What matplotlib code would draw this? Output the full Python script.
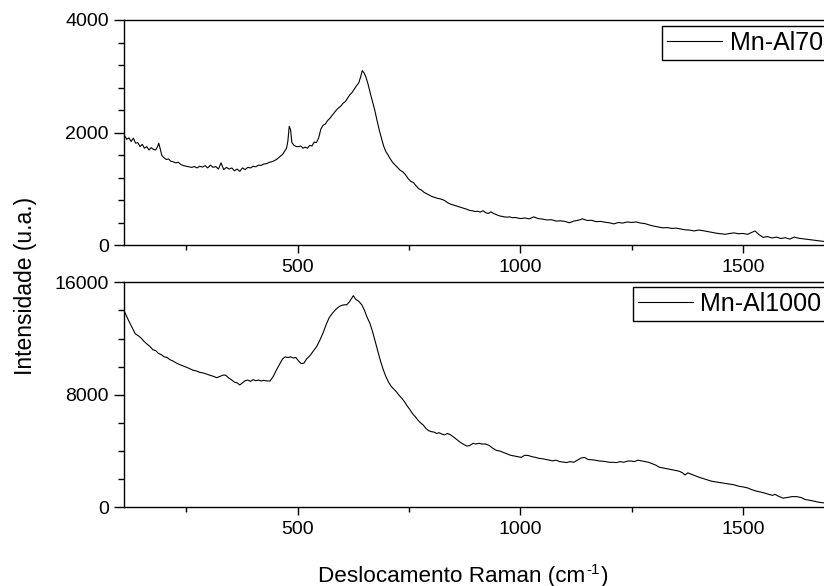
import matplotlib
matplotlib.use("Agg")
import matplotlib.pyplot as plt
from matplotlib.ticker import MultipleLocator, FixedLocator

plt.rcParams['font.family'] = ['Liberation Sans', 'DejaVu Sans']

# Mn-Al70 spectrum (top panel)
x_al70 = [110, 116, 121, 126, 131, 136, 141, 146, 151, 156, 161, 166, 171, 176, 181, 185, 188, 191, 195, 200,
          205, 210, 215, 220, 226, 232, 238, 244, 250, 256, 262, 268, 274, 280, 286, 292, 298, 304, 310, 316,
          322, 328, 334, 340, 346, 352, 358, 364, 370, 376, 382, 388, 394, 400, 406, 412, 418, 424, 430, 436,
          442, 448, 454, 460, 466, 471, 475, 478, 481, 484, 487, 492, 497, 502, 507, 512, 517, 522, 527, 532,
          537, 542, 547, 552, 557, 562, 567, 572, 577, 582, 587, 592, 597, 602, 607, 612, 617, 622, 627, 632,
          637, 641, 645, 649, 653, 658, 663, 668, 673, 678, 683, 688, 693, 698, 703, 708, 713, 718, 724, 730,
          736, 742, 748, 754, 760, 766, 772, 778, 784, 790, 796, 802, 808, 814, 820, 826, 832, 838, 844, 850,
          856, 862, 868, 874, 880, 886, 892, 898, 904, 910, 916, 922, 928, 934, 940, 946, 952, 958, 964, 970,
          976, 982, 988, 994, 1000, 1010, 1020, 1030, 1040, 1050, 1060, 1070, 1080, 1090, 1100, 1110, 1120,
          1130, 1140, 1150, 1160, 1170, 1180, 1190, 1200, 1210, 1220, 1230, 1240, 1250, 1260, 1270, 1280,
          1290, 1300, 1310, 1320, 1330, 1340, 1350, 1360, 1370, 1380, 1390, 1400, 1410, 1420, 1430, 1440,
          1450, 1460, 1470, 1480, 1490, 1500, 1510, 1520, 1527, 1535, 1545, 1555, 1565, 1575, 1585, 1595,
          1605, 1615, 1625, 1635, 1645, 1655, 1665, 1675, 1685, 1695, 1705, 1715]
y_al70 = [1960, 1880, 1905, 1840, 1900, 1810, 1820, 1750, 1790, 1720, 1750, 1690, 1730, 1700, 1690, 1740, 1810, 1720, 1590, 1550,
          1520, 1530, 1490, 1480, 1460, 1470, 1430, 1410, 1400, 1390, 1380, 1395, 1370, 1400, 1385, 1410, 1370, 1420, 1380, 1395,
          1350, 1460, 1340, 1380, 1350, 1370, 1320, 1350, 1310, 1370, 1340, 1380, 1370, 1400, 1390, 1420, 1415, 1440, 1445, 1470,
          1480, 1500, 1530, 1570, 1610, 1670, 1720, 1850, 2110, 2050, 1820, 1770, 1750, 1750, 1760, 1720, 1740, 1720, 1770, 1760,
          1830, 1820, 1900, 2060, 2130, 2150, 2210, 2250, 2300, 2350, 2400, 2440, 2470, 2520, 2550, 2610, 2670, 2710, 2770, 2830,
          2880, 2980, 3100, 3060, 2990, 2860, 2700, 2550, 2400, 2220, 2050, 1900, 1760, 1660, 1600, 1530, 1470, 1430, 1380, 1330,
          1300, 1250, 1180, 1130, 1110, 1050, 1000, 975, 935, 910, 885, 860, 845, 830, 820, 805, 780, 745, 725, 710,
          695, 680, 665, 650, 635, 615, 610, 595, 600, 585, 610, 575, 560, 590, 560, 540, 520, 510, 500, 495,
          500, 485, 490, 480, 470, 480, 465, 500, 470, 460, 445, 450, 425, 430, 420, 395, 425,
          440, 465, 435, 440, 415, 420, 405, 395, 375, 400, 390, 410, 400, 410, 390, 380,
          355, 335, 320, 305, 310, 295, 300, 285, 270, 265, 250, 265, 255, 240, 225, 210,
          200, 190, 205, 215, 200, 205, 190, 225, 250, 190, 135, 150, 125, 140, 115, 130,
          105, 140, 120, 110, 100, 90, 80, 70, 60, 65, 50, 45]

# Mn-Al1000 spectrum (bottom panel)
x_al1000 = [112, 120, 128, 135, 142, 148, 155, 162, 168, 175, 181, 187, 194, 200, 207, 213, 220, 228, 235, 243,
            251, 258, 265, 272, 280, 288, 295, 302, 310, 318, 325, 332, 338, 345, 352, 358, 364, 370, 376, 382,
            388, 394, 400, 406, 412, 418, 424, 430, 438, 445, 452, 460, 466, 472, 478, 484, 490, 496, 502, 508,
            514, 520, 528, 536, 543, 550, 557, 564, 571, 578, 585, 592, 598, 604, 610, 616, 622, 625, 630, 637,
            644, 650, 656, 662, 668, 674, 680, 686, 692, 698, 704, 710, 716, 722, 728, 734, 740, 746, 752, 758,
            764, 770, 776, 782, 788, 794, 800, 806, 812, 818, 824, 830, 836, 842, 850, 858, 866, 874, 880, 887,
            894, 900, 907, 914, 922, 930, 938, 946, 954, 962, 970, 978, 986, 994, 1002, 1010, 1018, 1026, 1034,
            1042, 1050, 1058, 1066, 1072, 1080, 1088, 1096, 1104, 1112, 1120, 1128, 1136, 1144, 1152, 1160,
            1168, 1176, 1184, 1192, 1200, 1208, 1216, 1224, 1232, 1240, 1248, 1256, 1264, 1272, 1280, 1288,
            1296, 1304, 1312, 1320, 1328, 1336, 1344, 1352, 1358, 1364, 1370, 1376, 1384, 1392, 1400, 1410,
            1420, 1430, 1440, 1450, 1460, 1470, 1480, 1490, 1500, 1510, 1520, 1530, 1540, 1550, 1560, 1566,
            1572, 1580, 1590, 1600, 1610, 1620, 1630, 1640, 1650, 1660, 1670, 1680, 1690, 1700, 1710, 1720]
y_al1000 = [13850, 13300, 12800, 12350, 12200, 12050, 11800, 11600, 11450, 11200, 11150, 10950, 10850, 10700, 10650, 10500, 10400, 10250, 10150, 10050,
            9950, 9850, 9750, 9700, 9600, 9550, 9480, 9400, 9320, 9220, 9300, 9400, 9400, 9200, 9050, 8900, 8850, 8700, 8850, 9000,
            9050, 8950, 9080, 9000, 9050, 8980, 9030, 8990, 8980, 9300, 9750, 10200, 10550, 10700, 10650, 10700, 10620, 10650, 10400, 10220,
            10250, 10550, 10800, 11150, 11450, 11900, 12400, 13000, 13500, 13800, 14050, 14250, 14350, 14400, 14400, 14600, 14900, 15050, 14800, 14650,
            14400, 14000, 13500, 13100, 12500, 11800, 11100, 10400, 9800, 9300, 8900, 8600, 8400, 8200, 7950, 7750, 7500, 7200, 6950, 6650,
            6450, 6200, 6000, 5850, 5600, 5450, 5380, 5350, 5250, 5300, 5200, 5150, 5250, 5180, 5000, 4800, 4600, 4450, 4350, 4400,
            4550, 4500, 4550, 4500, 4500, 4400, 4200, 4050, 4000, 3900, 3800, 3700, 3650, 3600, 3550, 3700, 3680, 3600, 3550,
            3480, 3450, 3400, 3350, 3300, 3350, 3250, 3220, 3180, 3250, 3200, 3350, 3500, 3550, 3400, 3380,
            3350, 3300, 3280, 3250, 3200, 3200, 3180, 3250, 3200, 3280, 3300, 3250, 3350, 3300, 3250, 3200,
            3100, 3000, 2850, 2800, 2750, 2700, 2650, 2600, 2550, 2450, 2300, 2450, 2350, 2250, 2150, 2050,
            1950, 1850, 1800, 1750, 1700, 1650, 1600, 1500, 1450, 1380, 1250, 1150, 1080, 1000, 900, 850,
            920, 780, 650, 700, 760, 760, 700, 550, 500, 430, 360, 320, 300, 250, 230, 200]

labels = ['Mn-Al70', 'Mn-Al1000']
x_major = [500, 1000, 1500]
x_minor = [250, 750, 1250]

W, H = 824, 586
fig = plt.figure(figsize=(W / 100, H / 100), dpi=100)

# axes run past the right edge of the figure, as in the original
left, right = 124, 841
ax1 = fig.add_axes([left / W, 1 - 245 / H, (right - left) / W, 225 / H])
ax2 = fig.add_axes([left / W, 1 - 507.3 / H, (right - left) / W, 225 / H])

ax1.plot(x_al70, y_al70, color='k', lw=0.8, label=labels[0])
ax2.plot(x_al1000, y_al1000, color='k', lw=0.8, label=labels[1])

ax1.set_ylim(0, 4000)
ax1.yaxis.set_major_locator(FixedLocator([0, 2000, 4000]))
ax1.yaxis.set_minor_locator(MultipleLocator(400))
ax2.set_ylim(0, 16000)
ax2.yaxis.set_major_locator(FixedLocator([0, 8000, 16000]))
ax2.yaxis.set_minor_locator(MultipleLocator(2000))

for ax in (ax1, ax2):
    ax.set_xlim(110, 1720)
    ax.xaxis.set_major_locator(FixedLocator(x_major))
    ax.xaxis.set_minor_locator(FixedLocator(x_minor))
    ax.tick_params(which='both', direction='out', top=False, right=False,
                   labelsize=14, width=1.0, color='k')
    ax.tick_params(axis='x', which='major', length=6, pad=4)
    ax.tick_params(axis='x', which='minor', length=3.5)
    ax.tick_params(axis='y', which='major', length=7, pad=4)
    ax.tick_params(axis='y', which='minor', length=4)
    for s in ax.spines.values():
        s.set_linewidth(1.0)
        s.set_color('k')

leg_pos = [(662, 26), (633, 287)]
for ax, (lx, ly) in zip((ax1, ax2), leg_pos):
    leg = ax.legend(loc='upper left', bbox_to_anchor=(lx / W, 1 - ly / H),
                    bbox_transform=fig.transFigure, borderaxespad=0,
                    fontsize=18, handlelength=2.2, handletextpad=0.3,
                    borderpad=0.2, fancybox=False, framealpha=1)
    leg.get_frame().set_edgecolor('k')
    leg.get_frame().set_linewidth(1.0)
    for line in leg.get_lines():
        line.set_linewidth(0.8)

# x label with a plain hyphen in the superscript
xl = fig.text(318 / W, 1 - 582 / H, 'Deslocamento Raman (cm',
              ha='left', va='baseline', fontsize=16.2)
sup = fig.text(0, 0, '-1', fontsize=11, ha='left', va='baseline')
close = fig.text(0, 0, ')', fontsize=16.2, ha='left', va='baseline')
fig.canvas.draw()
r = fig.canvas.get_renderer()
bb = xl.get_window_extent(r)
sup.set_position(((bb.x1 + 1) / W, (bb.y0 + 4 + 9) / H))
bb2 = sup.get_window_extent(r)
close.set_position(((bb2.x1 + 1) / W, xl.get_position()[1]))

fig.text(26 / W, 1 - 286 / H, 'Intensidade (u.a.)', rotation=90,
         ha='center', va='center', fontsize=16.5)

fig.savefig('out.png', dpi=100)
